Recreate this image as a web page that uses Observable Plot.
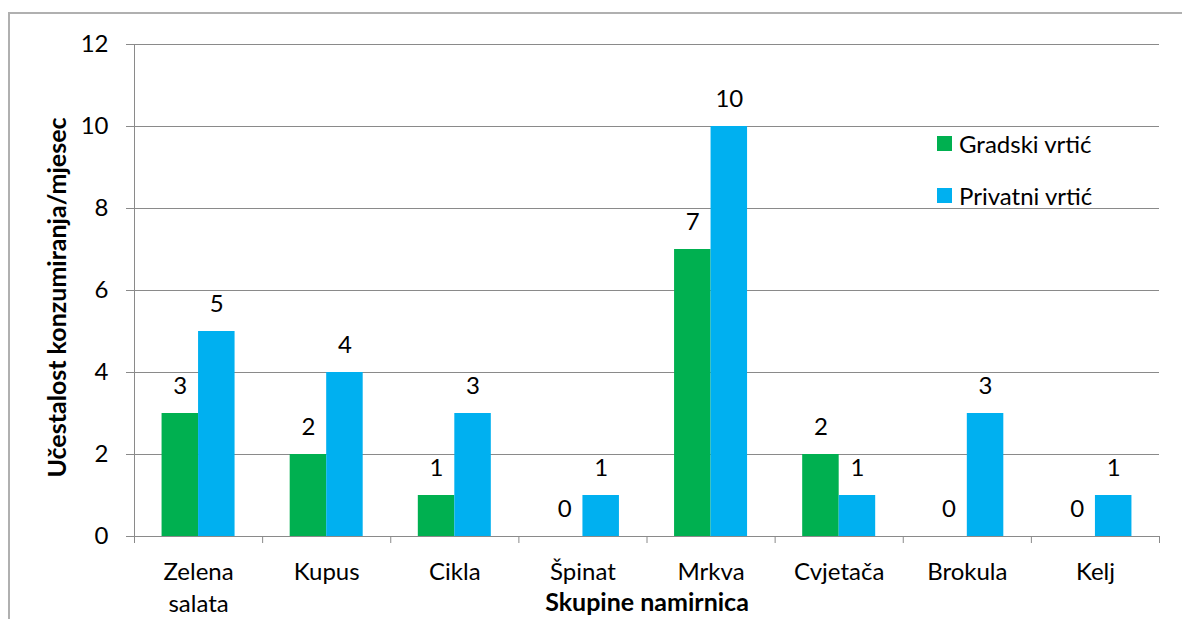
<!DOCTYPE html>
<html>
<head>
<meta charset="utf-8">
<script src="https://cdn.jsdelivr.net/npm/d3@7"></script>
<script src="https://cdn.jsdelivr.net/npm/@observablehq/plot@0.6"></script>
<style>
  html, body { margin: 0; padding: 0; background: #fff; overflow: hidden; }
  #wrap { position: relative; width: 1182px; height: 619px; overflow: hidden; font-family: Lato, "Open Sans", sans-serif; }
  #frame { position: absolute; left: 8px; top: 12px; width: 1300px; height: 800px; border: 2px solid #b0b0b0; box-sizing: border-box; }
  #chart { position: absolute; left: 0; top: 0; }
  #legend { position: absolute; left: 937px; top: 128px; font-size: 24px; color: #000; }
  .item { display: flex; align-items: center; height: 30px; margin-bottom: 22px; }
  .sw { width: 15px; height: 15px; margin-right: 7px; }
</style>
</head>
<body>
<div id="wrap">
  <div id="frame"></div>
  <div id="chart"></div>
  <div id="legend"></div>
</div>
<script>
const categories = ["Zelena salata", "Kupus", "Cikla", "Špinat", "Mrkva", "Cvjetača", "Brokula", "Kelj"];
const tickLabels = ["Zelena\nsalata", "Kupus", "Cikla", "Špinat", "Mrkva", "Cvjetača", "Brokula", "Kelj"];
const series = ["Gradski vrtić", "Privatni vrtić"];
const gradski = [3, 2, 1, 0, 7, 2, 0, 0];
const privatni = [5, 4, 3, 1, 10, 1, 3, 1];
const colors = ["#00B050", "#00B0F0"];
const yTicks = [0, 2, 4, 6, 8, 10, 12];
const yTitle = "Učestalost konzumiranja/mjesec";
const xTitle = "Skupine namirnica";

const W = 1182, H = 619, mL = 134, mR = 23, mT = 44, mB = 83;
const bw = (W - mL - mR) / categories.length;
const barW = 36.5;
const grid = "#8a8a8a";

const rowsG = categories.map((c, i) => ({cat: c, v: gradski[i]}));
const rowsP = categories.map((c, i) => ({cat: c, v: privatni[i]}));

const chart = Plot.plot({
  width: W, height: H,
  marginLeft: mL, marginRight: mR, marginTop: mT, marginBottom: mB,
  style: {fontFamily: "Lato, 'Open Sans', sans-serif", fontSize: "24px", color: "#000", background: "transparent", overflow: "visible"},
  x: {domain: categories, padding: 0, round: false, axis: null},
  y: {domain: [0, 12], axis: null},
  marks: [
    Plot.gridY(yTicks, {stroke: grid, strokeOpacity: 1, strokeWidth: 1}),
    Plot.barY(rowsG, {x: "cat", y: "v", fill: colors[0], insetLeft: bw / 2 - barW, insetRight: bw / 2}),
    Plot.barY(rowsP, {x: "cat", y: "v", fill: colors[1], insetLeft: bw / 2, insetRight: bw / 2 - barW}),
    Plot.ruleY([0], {stroke: grid}),
    Plot.ruleX([0], {x: null, dx: -(W - mL - mR) / 2, insetBottom: -7, stroke: grid}),
    Plot.axisX({tickSize: 7, tickFormat: () => "", dx: -bw / 2, stroke: grid, label: null}),
    Plot.axisX({ticks: [categories[categories.length - 1]], tickSize: 7, tickFormat: () => "", dx: bw / 2, stroke: grid, label: null}),
    Plot.axisX({tickSize: 0, tickPadding: 21, tickFormat: (d) => tickLabels[categories.indexOf(d)], lineHeight: 1.33, fill: "#000", label: null}),
    Plot.axisY({ticks: yTicks, tickSize: 8, tickPadding: 18, stroke: grid, fill: "#000", label: null}),
    Plot.text(rowsG, {x: "cat", y: "v", text: "v", dx: -barW / 2, dy: -27, fill: "#000"}),
    Plot.text(rowsP, {x: "cat", y: "v", text: "v", dx: barW / 2, dy: -27, fill: "#000"}),
    Plot.text([yTitle], {frameAnchor: "left", textAnchor: "middle", rotate: -90, dx: -77, dy: 7, fontWeight: "bold", fontSize: 25, fill: "#000"}),
    Plot.text([xTitle], {frameAnchor: "bottom", dy: 74, fontWeight: "bold", fontSize: 25, fill: "#000"})
  ]
});
document.getElementById("chart").appendChild(chart);

const legend = document.getElementById("legend");
series.forEach((s, i) => {
  const item = document.createElement("div");
  item.className = "item";
  const sw = document.createElement("div");
  sw.className = "sw";
  sw.style.background = colors[i];
  const t = document.createElement("span");
  t.textContent = s;
  item.appendChild(sw);
  item.appendChild(t);
  legend.appendChild(item);
});
</script>
</body>
</html>
